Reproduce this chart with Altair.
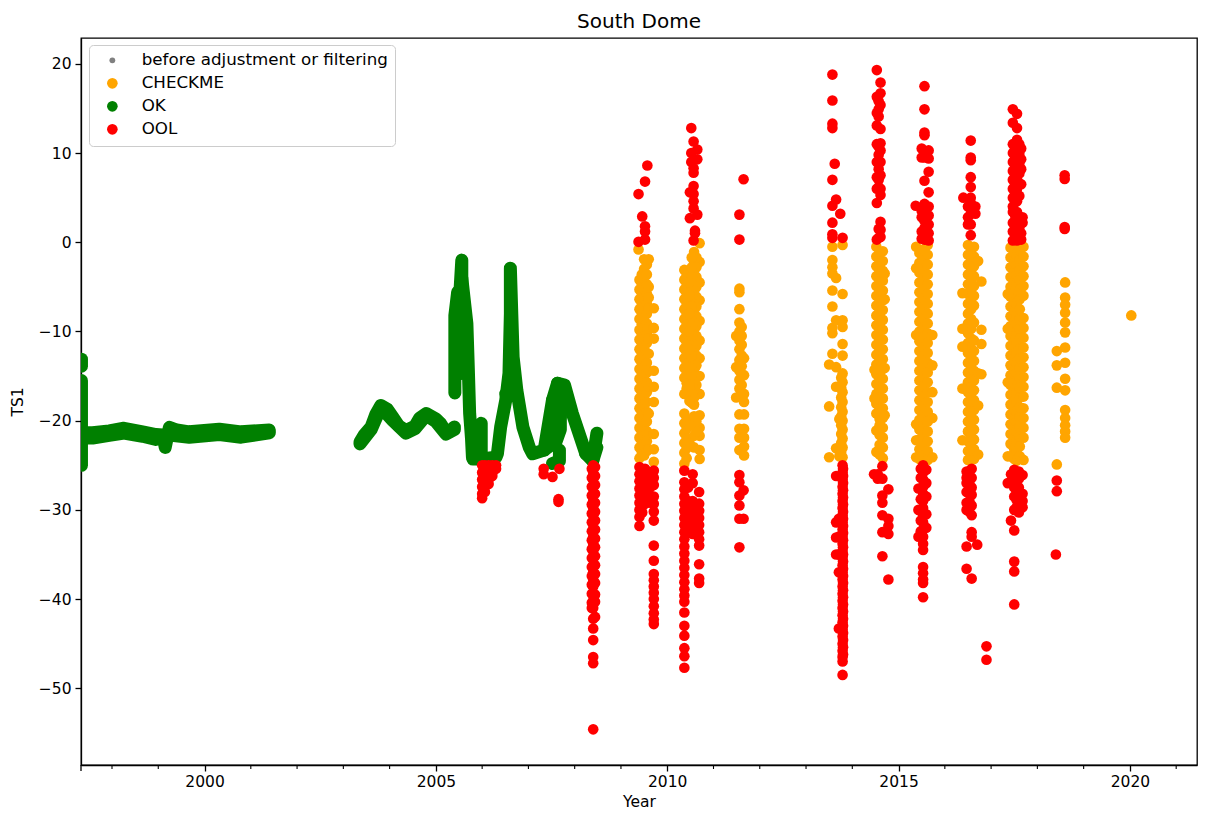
import altair as alt
import pandas as pd

TITLE = "South Dome"
STATUS = ["before adjustment or filtering", "CHECKME", "OK", "OOL"]
COLORS = ["gray", "orange", "green", "red"]
SIZES = [34, 113, 113, 113]
MAJOR = [2000, 2005, 2010, 2015, 2020]
MINOR = [1998, 1999, 2001, 2002, 2003, 2004, 2006, 2007, 2008, 2009, 2011, 2012,
         2013, 2014, 2016, 2017, 2018, 2019, 2021]
EDGE_TICK = [1997.33]
Y_TICKS = [20, 10, 0, -10, -20, -30, -40, -50]

# OK: continuous runs of readings (year, TS1)
OK_A_X = [1997.34, 1997.34]
OK_A_Y = [-13.1, -13.9]
OK_B_X = [1997.34, 1997.34, 1997.34, 1997.34]
OK_B_Y = [-15.5, -20, -23, -25]
OK_C_X = [1997.34, 1997.58, 1997.94, 1998.26, 1998.66, 1998.95, 1999.1, 1999.15, 1999.24, 1999.4, 1999.67, 2000.32, 2000.79, 2001.4]
OK_C_Y = [-21.35, -21.35, -21.15, -20.85, -21.25, -21.55, -21.6, -23.0, -20.75, -21.05, -21.25, -20.95, -21.25, -21.05]
OK_C2_X = [1997.34, 1997.58, 1997.94, 1998.26, 1998.66, 1998.95, 1999.24, 1999.67, 2000.32, 2000.79, 2001.4]
OK_C2_Y = [-21.95, -21.95, -21.65, -21.4, -21.75, -22.1, -21.6, -21.85, -21.55, -21.85, -21.35]
OK_D_X = [2003.36, 2003.45, 2003.6, 2003.7, 2003.81, 2003.95, 2004.07, 2004.2, 2004.35, 2004.55, 2004.65, 2004.79, 2005.0, 2005.1, 2005.22, 2005.3, 2005.4]
OK_D_Y = [-22.4, -21.6, -20.7, -19.3, -18.3, -18.7, -19.6, -20.6, -21.1, -20.6, -19.7, -19.2, -19.8, -20.3, -21.3, -21.2, -20.7]
OK_D2_X = [2003.36, 2003.6, 2003.81, 2004.07, 2004.35, 2004.55, 2004.79, 2005.0, 2005.22, 2005.4]
OK_D2_Y = [-22.6, -21.0, -18.5, -20.0, -21.4, -20.9, -19.4, -20.1, -21.5, -21.0]
OK_E1_X = [2005.41, 2005.41, 2005.47]
OK_E1_Y = [-16.9, -8.2, -5.6]
OK_E2_X = [2005.47, 2005.56, 2005.56]
OK_E2_Y = [-10, -2.0, -14.7]
OK_E3_X = [2005.56, 2005.67, 2005.70, 2005.73, 2005.77, 2005.79]
OK_E3_Y = [-4, -9.1, -14, -19.2, -22, -24.1]
OK_E4_X = [2005.8, 2005.98, 2005.98, 2005.8]
OK_E4_Y = [-21, -20.3, -24.3, -24.3]
OK_E5_X = [2005.98, 2006.3, 2006.33, 2006.40, 2006.51, 2006.58, 2006.61, 2006.61, 2006.67, 2006.75, 2006.88, 2007.02, 2007.09, 2007.34, 2007.52, 2007.63, 2007.78, 2007.95, 2008.24, 2008.39, 2008.48]
OK_E5_Y = [-24.3, -24.1, -23.7, -20.7, -17.7, -14.7, -8, -2.9, -12.9, -16.6, -20.7, -23, -23.7, -23.3, -17.7, -15.8, -16, -19.2, -23.7, -24.5, -21.4]
OK_E6_X = [2006.51, 2006.72]
OK_E6_Y = [-17, -15.8]
OK_F_X = [2007.63, 2007.69, 2007.69, 2007.6, 2007.34]
OK_F_Y = [-15.8, -19.4, -21, -22.3, -23.3]
OK_F2_X = [2007.52, 2007.69, 2007.5]
OK_F2_Y = [-17.7, -19.5, -20.5]
OK_G_X = [2007.67, 2007.67, 2007.52]
OK_G_Y = [-23.3, -24.5, -24.8]
OK_H_X = [2008.24, 2008.48, 2008.39]
OK_H_Y = [-23.7, -23, -24.5]
OK_RUNS = [(OK_A_X, OK_A_Y), (OK_B_X, OK_B_Y), (OK_C_X, OK_C_Y), (OK_C2_X, OK_C2_Y),
           (OK_D_X, OK_D_Y), (OK_D2_X, OK_D2_Y), (OK_E1_X, OK_E1_Y), (OK_E2_X, OK_E2_Y),
           (OK_E3_X, OK_E3_Y), (OK_E4_X, OK_E4_Y), (OK_E5_X, OK_E5_Y), (OK_E6_X, OK_E6_Y),
           (OK_F_X, OK_F_Y), (OK_F2_X, OK_F2_Y), (OK_G_X, OK_G_Y), (OK_H_X, OK_H_Y)]

CHECKME = [
    # 2009
    (2009.38, [-0.8]),
    (2009.40, [-4.2, -5.3, -6.4, -7.5, -8.6, -9.8, -10.9, -12, -13.1, -14.2, -15.3, -16.4, -17.5, -18.6, -19.7, -20.8, -21.9, -23, -24.2]),
    (2009.45, [-3.6, -4.7, -5.8, -6.9, -8, -9.2, -10.3, -11.4, -12.5, -13.6, -14.7, -15.8, -16.9, -18, -19.1, -20.2, -21.3, -22.4, -23.6]),
    (2009.50, [-1.9, -3, -4.1, -5.2, -6.3, -7.4, -8.5, -9.6, -10.7, -11.8, -12.9, -14, -15.1, -16.2, -17.3, -18.4, -19.5, -20.6, -21.7, -22.8, -23.9]),
    (2009.56, [-2.5, -3.6, -4.7, -5.8, -6.9, -8, -9.1, -10.2, -11.3, -12.4, -13.5, -14.6, -15.7, -16.8, -17.9, -19, -20.1, -21.2, -22.3, -23.4]),
    (2009.60, [-1.9, -5, -6.2, -7.4, -9.6, -10.8, -12.5, -14.4, -16.2, -19.2, -21.5, -23.2]),
    (2009.71, [-7.4, -9.6, -10.8, -14.4, -16.2, -17.9, -21.5, -23.2, -24.6]),
    # 2010
    (2010.70, [-0.1, -2.2, -4.5, -6.5, -8.8, -11, -13, -15, -17, -19.4, -20.8, -21.7, -23.3, -24.3]),
    (2010.37, [-3.1, -4.2, -5.3, -6.4, -7.5, -8.6, -9.7, -10.8, -11.9, -13, -14.1, -15.2, -17, -19.2, -20.3, -21.4, -22.5, -23.6, -24.8]),
    (2010.42, [-3.7, -4.8, -5.9, -7, -8.1, -9.2, -10.3, -11.4, -12.5, -13.6, -14.7, -15.8, -16.4, -19.8, -20.9, -22, -23.1, -24.2]),
    (2010.58, [-1.1, -2.2, -3.3, -4.4, -5.5, -6.6, -7.7, -8.8, -9.9, -11, -12.1, -13.2, -14.3, -15.4, -16.5, -17.4, -18.2, -19.5, -20.6, -21.7, -23.0]),
    (2010.63, [-1.7, -2.8, -3.9, -5, -6.1, -7.2, -8.3, -9.4, -10.5, -11.6, -12.7, -13.8, -14.9, -16, -20.1, -21.2]),
    (2010.53, [-1.7, -2.8, -3.9, -5, -6.1, -7.2, -8.3, -9.4, -10.5, -11.6, -12.7, -13.8, -14.9, -16, -17, -18]),
    (2010.48, [-4.5, -6, -8, -10, -12, -14, -16, -17.8, -20.5, -22.5]),
    # 2011
    (2011.56, [-5.2, -5.6, -7.5, -9, -10, -11, -12, -13.2, -14.4, -15.4, -16.4, -19.3, -20.9, -21.9, -23.3]),
    (2011.49, [-10.5, -14, -17.4]),
    (2011.61, [-9.5, -10.5, -11.5, -12.7, -13.9, -15, -16, -16.9, -17.4]),
    (2011.66, [-14.9, -13, -17, -17.9, -19.3, -20.9, -21.9, -22.9, -23.9]),
    # 2013
    (2013.57, [-0.5, -2, -2.8, -3.5, -5.4, -7.2, -9.6, -10.2, -12.5]),
    (2013.65, [-4, -8.75, -14, -16.2, -23.1]),
    (2013.50, [-13.7, -18.4, -24.1]),
    (2013.79, [-0.3, -5.8, -9.5, -8.75, -11.4, -12.7, -14.7, -15.7, -16.8, -17.9, -19, -20, -21, -22, -23, -24.1]),
    (2013.76, [-15.2, -16.3, -17.4, -18.5, -19.5, -20.5, -21.5, -22.5, -23.5]),
    (2013.72, [-19.8, -24]),
    # 2014
    (2014.52, [-0.5, -1.6, -2.7, -3.8, -4.9, -6, -7.1, -8.2, -9.3, -10.4, -11.5, -12.6, -13.7, -14.8, -15.9, -17, -18.1, -19.2, -21.1, -23.5]),
    (2014.59, [-1.1, -2.2, -3.3, -4.4, -5.5, -6.6, -7.7, -8.8, -9.9, -11, -12.1, -13.2, -14.3, -15.4, -16.5, -17.6, -18.7, -19.8, -20.5, -21.6, -22.7, -23.8]),
    (2014.66, [-1, -2.1, -3.2, -4.3, -5.4, -6.5, -7.6, -8.7, -9.8, -10.9, -12, -13.1, -14.2, -15.3, -16.4, -17.5, -18.6, -19.7, -20.8, -21.9, -23, -24.2]),
    (2014.48, [-14.3, -17.5]),
    (2014.70, [-3.5, -6.4, -14.1, -19.4]),
    # 2015
    (2015.38, [-0.5, -2.9, -10.4, -20.4, -22.2, -24.1]),
    (2015.45, [-1.2, -2.3, -3.4, -4.5, -5.6, -6.7, -7.8, -8.9, -10, -11.1, -12.2, -13.3, -14.4, -15.5, -16.6, -17.7, -18.8, -19.9, -21, -22.1, -23.2, -24.3]),
    (2015.54, [-0.8, -1.9, -3, -4.1, -5.2, -6.3, -7.4, -8.5, -9.6, -10.7, -11.8, -12.9, -14, -15.1, -16.2, -17.3, -18.4, -19.5, -20.6, -21.7, -22.8, -23.9]),
    (2015.63, [-0.3, -1.4, -2.5, -3.6, -4.7, -5.8, -6.9, -8, -9.1, -10.2, -11.3, -12.4, -13.5, -14.6, -15.7, -16.8, -17.9, -19, -20.1, -21.2, -22.3, -23.4, -24.4]),
    (2015.73, [-10.4, -13.8, -16.8, -19.7, -24.1]),
    # 2016
    (2016.50, [-0.3, -1.4, -2.5, -3.6, -4.7, -5.8, -6.9, -8, -9.1, -10.2, -11.3, -12.4, -13.5, -14.6, -15.7, -16.8, -17.9, -19, -20.1, -21.2, -22.3, -23.4, -24.4]),
    (2016.57, [-0.9, -2, -3.1, -4.2, -5.3, -6.4, -7.5, -8.6, -9.7, -10.8, -11.9, -13, -14.1, -15.2, -16.3, -17.4, -18.5, -19.6, -20.7, -21.8, -22.9, -24]),
    (2016.63, [-0.5, -1.6, -2.7, -3.8, -4.9, -6, -7.1, -9, -11, -12.2, -13.3, -14.4, -15.5, -16.6, -17.7, -18.8, -19.9, -21, -22.1, -23.2, -24.3]),
    (2016.72, [-2.1, -14.7, -18.3, -23.8]),
    (2016.79, [-4.4, -9.8, -11.4, -14.8]),
    (2016.38, [-5.7, -9.7, -11.7, -16.4, -22.2]),
    # 2017
    (2017.42, [-0.6, -1.7, -2.8, -3.9, -5, -6.1, -7.2, -8.3, -9.4, -10.5, -11.6, -12.7, -13.8, -14.9, -16, -17.1, -18.2, -19.3, -20.4, -21.5, -22.6, -24]),
    (2017.50, [-1.2, -2.3, -3.4, -4.5, -5.6, -6.7, -7.8, -8.9, -10, -11.1, -12.2, -13.3, -14.4, -15.5, -16.6, -17.7, -18.8, -19.9, -21, -22.1, -23.2, -24.3]),
    (2017.55, [-0.3, -1.4, -2.5, -3.6, -4.7, -5.8, -6.9, -8, -9.1, -10.2, -11.3, -12.4, -13.5, -14.6, -15.7, -16.8, -17.9, -19, -20.1, -21.2, -22.3, -23.4, -24.5]),
    (2017.62, [-0.9, -2, -3.1, -4.2, -5.3, -6.4, -7.5, -8.6, -9.7, -10.8, -11.9, -13, -14.1, -15.2, -16.3, -17.4, -18.5, -19.6, -20.7, -21.8, -22.9, -24]),
    (2017.70, [-0.5, -1.6, -2.7, -3.8, -4.9, -6, -8.5, -9.6, -10.7, -11.8, -12.9, -14, -15.1, -16.2, -17.3, -18.6, -19.7, -20.8, -21.9, -24.4]),
    (2017.36, [-5.8, -9.7, -15.7, -24]),
    # 2018 and 2020
    (2018.60, [-4.5, -6.2, -7, -7.9, -9, -10.1, -11.8, -13.5, -15.3, -16.6, -18.8, -19.7, -20.5, -21.2, -21.9]),
    (2018.42, [-12.2, -13.8, -16.3, -24.9]),
    (2020.03, [-8.2]),
]

OOL = [
    # 2006
    (2006.0, [-25, -25.8, -26.6, -27.4, -28.2, -28.7]),
    (2006.06, [-25, -25.8, -26.6, -27.4, -28]),
    (2006.14, [-25, -25.8, -26.6, -27.1]),
    (2006.22, [-25, -25.8, -26.2]),
    (2006.3, [-25, -25.4]),
    # 2007
    (2007.33, [-25.4, -26]),
    (2007.52, [-26.3]),
    (2007.67, [-25.4]),
    (2007.65, [-28.8, -29.1]),
    # 2008
    (2008.40, [-25, -25.8, -26.6, -27.4, -28.2, -29, -29.8, -30.6, -31.4, -32.2, -33, -33.8, -34.6, -35.4, -36.2, -37, -37.8, -38.6, -39.4, -40.2, -41, -42.2, -43.3, -44.6, -46.5, -47.2, -54.6]),
    (2008.37, [-25.4, -26.4, -27.4, -28.4, -29.4, -30.4, -31.4, -32.4, -33.4, -34.4, -35.4, -36.4, -37.4, -38.4, -39.4, -40.4, -41]),
    (2008.44, [-25.2, -26.2, -27.2, -28.2, -29.2, -30.2, -31.2, -32.2, -33.2, -34.2, -35.2, -36.2, -37.2, -38.2, -39.5, -40.3, -42]),
    # 2009
    (2009.57, [8.6]), (2009.52, [6.8, 1.8, 1.2, 0.3]), (2009.38, [5.4, 0.05]), (2009.46, [2.9]),
    (2009.40, [-25.2, -26, -26.8, -27.6, -28.4, -29.2, -30, -30.8, -31.8]),
    (2009.46, [-25.6, -26.4, -27.2, -28, -28.8, -29.6, -30.3]),
    (2009.52, [-25.4, -26.2, -27, -27.8, -28.6, -29.3]),
    (2009.58, [-25.8, -26.6, -27.4, -28.2, -29]),
    (2009.71, [-25.6, -26.4, -27.2, -28.5, -29.3, -30.2, -31.2, -34, -35.7, -37.2, -37.9, -38.6, -39.3, -40, -40.8, -41.6, -42.3, -42.8]),
    (2009.63, [-26, -27.5, -29.2]),
    # 2010
    (2010.52, [12.8, 10.0, 9.0]), (2010.57, [11.3, 8.3, 7.8, 6.3, 5.4, 4.6, 3.8, 0.2]),
    (2010.65, [10.4, 9.3, 3.1]), (2010.49, [5.6, 2.7]), (2010.60, [1.3, 1.0]),
    (2010.37, [-25.6, -26.9, -27.7, -28.5, -29.3, -30.1, -30.9, -31.7, -32.5, -33.3, -34.1, -34.9, -35.7, -36.5, -37.3, -38.1, -38.9, -39.6, -40.3, -41.5, -43, -44.1, -45.5, -46.4, -47.7]),
    (2010.55, [-26, -27, -29, -29.8, -30.6, -31.4, -32.2, -32.7]),
    (2010.45, [-27.5, -29, -31, -32.5]),
    (2010.69, [-28, -29.3, -30.1, -30.9, -31.7, -32.5, -33.3, -34, -36.1, -37.7, -38.2]),
    # 2011
    (2011.65, [7.07, -27.8, -31]), (2011.56, [3.1, 0.3, -26.1, -26.9, -28.4, -29.5, -31, -34.2]),
    # 2013
    (2013.57, [18.8, 15.9, 13.3, 12.8, 7.0, 4.1, 2.2, 0.9, 0.5]),
    (2013.62, [8.8]), (2013.65, [4.8]), (2013.74, [3.2]),
    (2013.79, [0.5, -25, -25.8, -26.6, -27.4, -28.2, -29, -29.8, -30.6, -31.4, -32.2, -33, -33.8, -34.6, -35.4, -36.2, -37, -37.8, -38.6, -39.4, -40.2, -41, -41.8, -42.6, -43.4, -44.2, -45, -45.8, -46.5, -47, -48.5]),
    (2013.80, [-25.4, -26.2, -27, -27.8, -28.6, -29.4, -30.2, -31, -31.8, -32.6, -33.4, -34.2, -35, -35.8, -36.6, -37.4, -38.2, -39, -39.8, -40.6, -41.4, -42.2, -43, -43.8, -44.6, -45.4, -46.2]),
    (2013.65, [-26.2, -31.4, -33.1, -35]),
    (2013.71, [-31, -33, -35, -37, -43.3]),
    # 2014
    (2014.53, [19.3, 16.3, 14.5, 13.1, 11, 9, 7.3, 6, 4.4, 0.3]),
    (2014.61, [17.9, 16.7, 15.4, 12.7, 11.1, 10.3, 9, 7.5, 6, 5.3, 2.3, 1.4, 0.6]),
    (2014.57, [15.8, 14.9, 14.1, 10.7, 9.8, 8.2, 7, 6.2, 1.5, 0.5]),
    (2014.65, [-25.1, -26.5, -28.4, -29.2, -30.6, -32.5, -35.2]),
    (2014.47, [-26]),
    (2014.55, [-26, -26.5]),
    (2014.78, [-27.7, -31, -31.8, -32.7, -37.8]),
    # 2015
    (2015.56, [17.5, 14.9, 12.3, 12, 9.5, 6.9, 4.3, 3.2, 2.4, 1.6, 0.8, 0.3]),
    (2015.50, [10.5, 9.5, 3.5, 1.2, 2.8, 0.4]), (2015.65, [10.3, 9.4, 7.9, 5.6, 4, 3, 2, 1, 0.2]),
    (2015.37, [4.1]),
    (2015.53, [-25, -25.8, -26.6, -27.4, -28.2, -29, -29.8, -30.6, -31.4, -32.2, -33, -33.8, -34.5, -36.4, -37.1, -37.8, -38.2, -39.8]),
    (2015.43, [-27.6, -30, -33]),
    (2015.48, [-25.4, -26.4, -27.6, -28.8, -30, -31.2, -32.4]),
    (2015.60, [-25.5, -27, -28.5, -30.5, -32]),
    # 2016
    (2016.56, [11.4, 9.5, 9.2, 7.3, 6.2, 5, 4.4, 3.2, 2, 0.8]),
    (2016.40, [5]), (2016.66, [4, 3.2]), (2016.50, [2.8, 2, 4]),
    (2016.47, [-25.7, -26.4, -27, -28, -29.2, -30, -34.1, -36.6]),
    (2016.58, [-25.4, -26.4, -27.5, -28.3, -29.5, -30.6, -32.5, -33, -37.7]),
    (2016.53, [-26, -27, -28, -29, -30.2]),
    (2016.70, [-33.9]),
    (2016.90, [-45.3, -46.8]),
    # 2017
    (2017.47, [14.9, 13.4, 11, 10, 9, 8, 7, 6, 5, 4, 3.4, 2.2, 1.2, 0.2]),
    (2017.52, [10.5, 9.5, 8.5, 7.5, 6.5, 5.5, 4.5, 3, 1.7, 0.7]),
    (2017.56, [14.4, 12.8, 11.5, 10.4, 9.3, 8.2, 7.1, 6, 4.6, 3.4, 2.2, 1.1, 0.2]),
    (2017.61, [11, 9.9, 8.8, 7.7, 6.6, 5.2, 2.8, 1.6, 0.6]),
    (2017.65, [10.5, 9.3, 8.2, 6.5, 1, 0.3, 2.2]),
    (2017.68, [2.8, 2.2]),
    (2017.43, [-26, -31.2]),
    (2017.36, [-27]),
    (2017.50, [-25.5, -26.5, -27.5, -28.5, -30, -32.3, -35.8, -36.9, -40.6]),
    (2017.55, [-25.9, -26.9, -27.9, -28.9, -29.7]),
    (2017.60, [-25.7, -26.5, -27.5, -28.5, -29.5, -30.3]),
    (2017.68, [-26.1, -28.2, -29, -29.7]),
    # 2018
    (2018.59, [7.5, 7.1, 1.7, 1.5]),
    (2018.42, [-26.7, -27.9]),
    (2018.40, [-35]),
]


def columns_frame(columns, status):
    rows = [{"year": x, "ts1": y, "status": status} for x, ys in columns for y in ys]
    return pd.DataFrame(rows)


ok_rows = []
for run, (xs, ys) in enumerate(OK_RUNS):
    for order, (x, y) in enumerate(zip(xs, ys)):
        ok_rows.append({"year": x, "ts1": y, "run": run, "order": order, "status": "OK"})
ok_df = pd.DataFrame(ok_rows)

FONT = "DejaVu Sans"
x_scale = alt.Scale(domain=[1997.33, 2021.45], nice=False, zero=False)
y_scale = alt.Scale(domain=[-58.6, 22.9], nice=False, zero=False)
color = alt.Color(
    "status:N",
    scale=alt.Scale(domain=STATUS, range=COLORS),
    legend=alt.Legend(
        title=None, orient="none", legendX=8, legendY=7,
        fillColor="white", strokeColor="#cccccc", cornerRadius=4,
        padding=7, labelFontSize=16.7, labelFont=FONT, labelColor="black",
        labelOffset=21, symbolOffset=8, rowPadding=5, symbolOpacity=1, symbolStrokeWidth=0,
        symbolType="circle", labelLimit=400,
    ),
)
size = alt.Size("status:N", scale=alt.Scale(type="ordinal", domain=STATUS, range=SIZES))
x_enc = alt.X(
    "year:Q", scale=x_scale, title="Year",
    axis=alt.Axis(values=MAJOR, format="d", grid=False, tickSize=6, tickWidth=1.3, tickColor="black",
                  domainColor="black", domainWidth=1.3, labelFontSize=15.5, labelFont=FONT,
                  labelColor="black", titleFontSize=15.5, titleFont=FONT, titleColor="black",
                  titleFontWeight="normal", labelPadding=3, titlePadding=5),
)
y_enc = alt.Y(
    "ts1:Q", scale=y_scale, title="TS1",
    axis=alt.Axis(values=Y_TICKS, grid=False, tickSize=6, tickWidth=1.3, tickColor="black",
                  domainColor="black", domainWidth=1.3, labelFontSize=15.5, labelFont=FONT,
                  labelColor="black", titleFontSize=15.5, titleFont=FONT, titleColor="black",
                  titleFontWeight="normal", labelPadding=4, titlePadding=13,
                  labelExpr="replace(datum.label, '-', '−')"),
)

orange = alt.Chart(columns_frame(CHECKME, "CHECKME")).mark_circle(opacity=1, clip=True).encode(
    x=x_enc, y=y_enc, color=color, size=size)
green = alt.Chart(ok_df).mark_line(
    color="green", strokeWidth=13, strokeCap="round", strokeJoin="round", clip=True
).encode(x=x_enc, y=y_enc, detail="run:N", order="order:Q")
red = alt.Chart(columns_frame(OOL, "OOL")).mark_circle(opacity=1, clip=True).encode(
    x=x_enc, y=y_enc, color=color, size=size)

minor_ticks = alt.Chart(pd.DataFrame({"year": MINOR})).mark_rule(
    color="black", strokeWidth=1.1, clip=False
).encode(x=alt.X("year:Q", scale=x_scale), y=alt.value(727), y2=alt.value(731))
edge_tick = alt.Chart(pd.DataFrame({"year": EDGE_TICK})).mark_rule(
    color="black", strokeWidth=1.3, clip=False
).encode(x=alt.X("year:Q", scale=x_scale), y=alt.value(727), y2=alt.value(733))

chart = (
    alt.layer(orange, green, red, minor_ticks, edge_tick)
    .properties(
        width=1116, height=727,
        title=alt.TitleParams(TITLE, fontSize=20, font=FONT, fontWeight="normal", color="black",
                              anchor="middle", offset=6),
        autosize=alt.AutoSizeParams(type="none"),
        padding={"left": 73, "top": 30, "right": 3, "bottom": 49},
        background="white",
    )
    .configure_view(stroke="black", strokeWidth=1.3)
)

chart.save("out.html", embed_options={"renderer": "svg", "actions": False})
